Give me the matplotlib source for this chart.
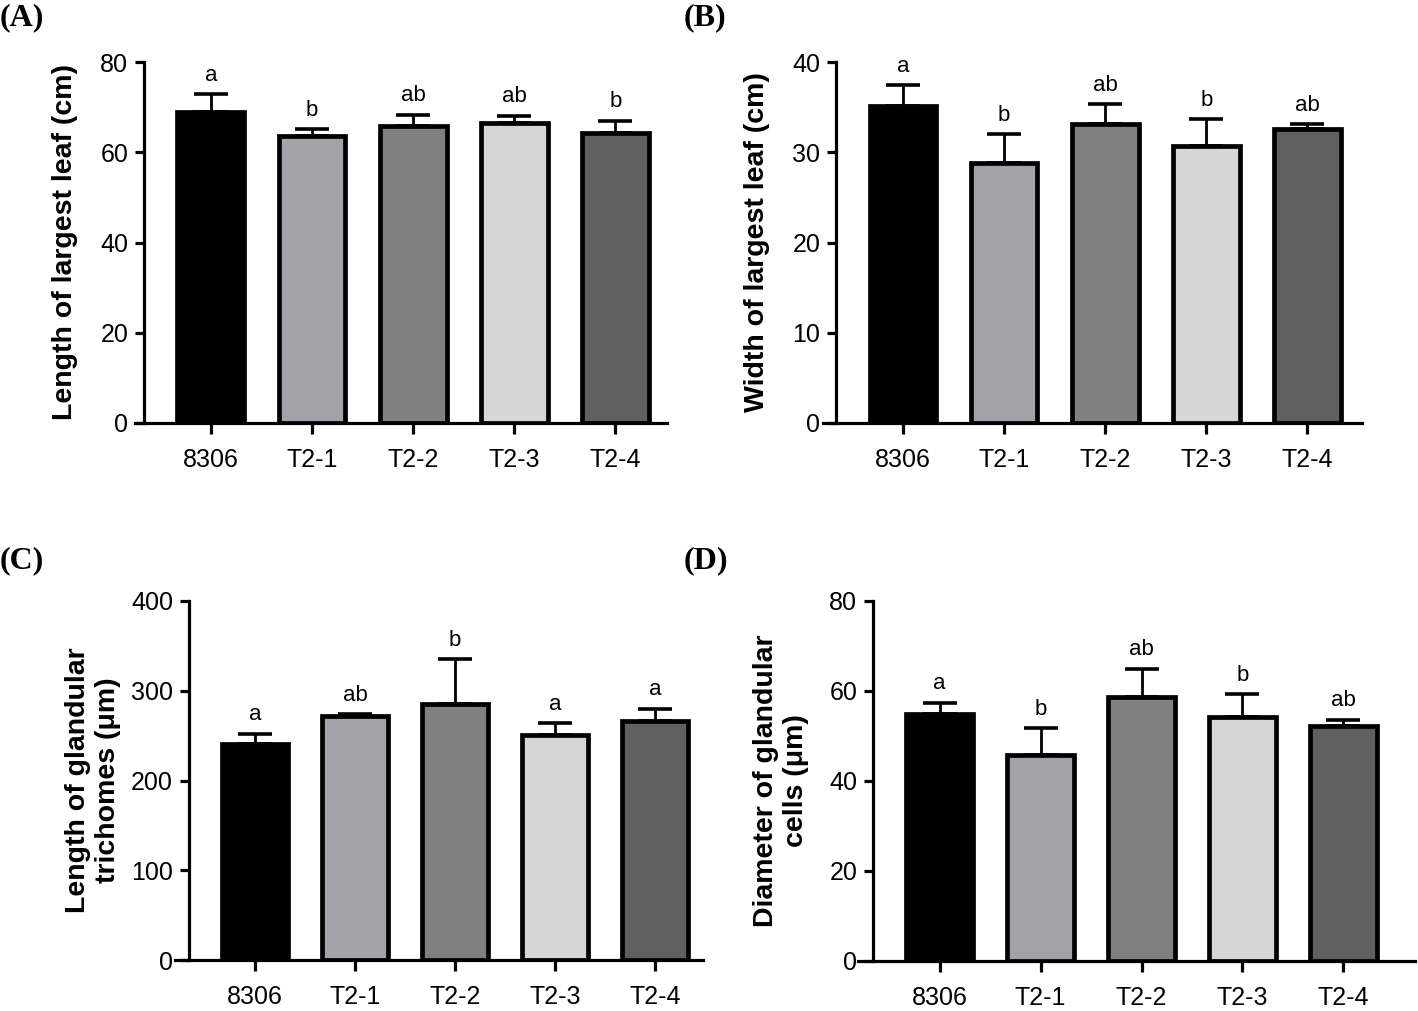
import matplotlib
matplotlib.use('Agg')
import matplotlib.pyplot as plt

plt.rcParams['font.family'] = ['Liberation Sans', 'DejaVu Sans']

# datos
categories = ['8306', 'T2-1', 'T2-2', 'T2-3', 'T2-4']
bar_colors = ['#000000', '#a2a2a7', '#808080', '#d6d6d6', '#606060']

leaf_length = [68.9, 63.7, 65.9, 66.4, 64.2]
leaf_length_err = [3.9, 1.4, 2.4, 1.7, 2.8]
leaf_length_sig = ['a', 'b', 'ab', 'ab', 'b']

leaf_width = [35.1, 28.8, 33.1, 30.7, 32.6]
leaf_width_err = [2.3, 3.2, 2.2, 3.0, 0.5]
leaf_width_sig = ['a', 'b', 'ab', 'b', 'ab']

trichome_length = [241, 272, 285, 251, 266]
trichome_length_err = [11, 2, 50, 13, 14]
trichome_length_sig = ['a', 'ab', 'b', 'a', 'a']

cell_diameter = [54.9, 45.7, 58.6, 54.3, 52.3]
cell_diameter_err = [2.5, 6.0, 6.4, 5.0, 1.3]
cell_diameter_sig = ['a', 'b', 'ab', 'b', 'ab']

W, H = 1418, 1011
fig = plt.figure(figsize=(W / 100, H / 100), dpi=100)


def panel(px_left, px_right, px_top, px_bottom, xlim, ylim, yticks,
          values, errors, letters, ylabel, label_x, letter, letter_xy):
    ax = fig.add_axes([px_left / W, 1 - px_bottom / H,
                       (px_right - px_left) / W, (px_bottom - px_top) / H])
    x = list(range(len(categories)))
    ax.bar(x, values, width=0.66, color=bar_colors, edgecolor='black',
           linewidth=3.4, zorder=2)
    ax.errorbar(x, values, yerr=[[0] * len(errors), errors], fmt='none',
                ecolor='black', elinewidth=2.0, capsize=12, capthick=2.6, zorder=1)
    for xi, v, e, s in zip(x, values, errors, letters):
        ax.annotate(s, (xi, v + e), xytext=(0, 6), textcoords='offset points',
                    ha='center', va='bottom', fontsize=16)
    ax.set_xlim(*xlim)
    ax.set_ylim(*ylim)
    ax.set_yticks(yticks)
    ax.set_xticks(x)
    ax.set_xticklabels(categories)
    for side in ['top', 'right']:
        ax.spines[side].set_visible(False)
    ax.spines['left'].set_position(('data', -0.66))
    ax.spines['left'].set_bounds(ylim[0], ylim[1])
    for side in ['left', 'bottom']:
        ax.spines[side].set_linewidth(2.3)
    ax.tick_params(axis='y', length=6.5, width=2.3, labelsize=18, pad=5)
    ax.tick_params(axis='x', length=8, width=2.3, labelsize=18, pad=10)
    ax.set_ylabel(ylabel, fontsize=20.5, fontweight='bold', multialignment='center')
    ax.yaxis.set_label_coords(label_x, 0.5)
    fig.text(letter_xy[0] / W, 1 - letter_xy[1] / H, letter, family='Liberation Serif',
             fontweight='bold', fontsize=23, ha='left', va='top')
    return ax


panel(135, 667, 62, 423, (-0.75, 4.51), (0, 80), [0, 20, 40, 60, 80],
      leaf_length, leaf_length_err, leaf_length_sig,
      'Length of largest leaf (cm)', -0.108, '(A)', (0, 3))
panel(823, 1362, 62, 423, (-0.79, 4.54), (0, 40), [0, 10, 20, 30, 40],
      leaf_width, leaf_width_err, leaf_width_sig,
      'Width of largest leaf (cm)', -0.099, '(B)', (684, 3))
panel(175, 703, 601, 960, (-0.80, 4.48), (0, 400), [0, 100, 200, 300, 400],
      trichome_length, trichome_length_err, trichome_length_sig,
      'Length of glandular\ntrichomes (μm)', -0.102, '(C)', (0, 546))
panel(858, 1415, 601, 961, (-0.81, 4.71), (0, 80), [0, 20, 40, 60, 80],
      cell_diameter, cell_diameter_err, cell_diameter_sig,
      'Diameter of glandular\ncells (μm)', -0.088, '(D)', (684, 546))

fig.savefig('out.png', dpi=100)
